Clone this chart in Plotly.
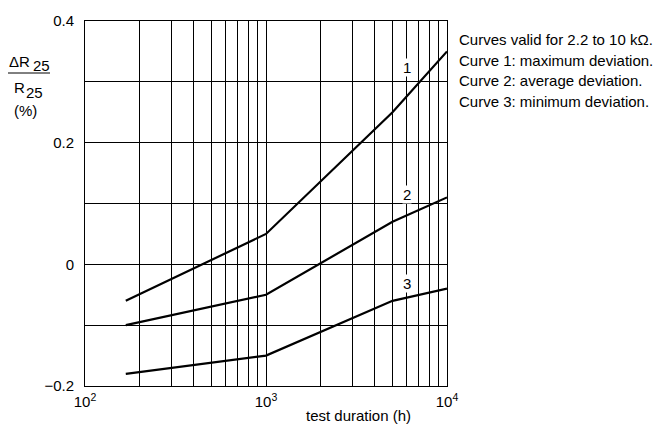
import plotly.graph_objects as go

# ---- data ----
hours = [168, 1000, 5000, 10000]
curve1 = [-0.06, 0.05, 0.25, 0.35]
curve2 = [-0.10, -0.05, 0.07, 0.11]
curve3 = [-0.18, -0.15, -0.06, -0.04]
curve_labels = ["1", "2", "3"]
label_x = 6000
label_y = [0.323, 0.115, -0.031]

x_tickvals = [100, 1000, 10000]
x_ticktext = ["10<sup>2</sup>", "10<sup>3</sup>", "10<sup>4</sup>"]
x_minorvals = [m * 10 ** e for e in (2, 3) for m in range(2, 10)]
y_tickvals = [-0.2, 0, 0.2, 0.4]
y_ticktext = ["\u22120.2", "0", "0.2", "0.4"]
y_minorvals = [-0.1, 0.1, 0.3]

notes = [
    "Curves valid for 2.2 to 10 k\u03a9.",
    "Curve 1: maximum deviation.",
    "Curve 2: average deviation.",
    "Curve 3: minimum deviation.",
]

W, H = 666, 426
L, R, T, B = 85, 447, 14, 386
FONT = "Liberation Sans, Arial, sans-serif"


def px(x):
    return (x - L) / (R - L)


def py(y):
    return (B - y) / (B - T)


fig = go.Figure()
for ys in (curve1, curve2, curve3):
    fig.add_trace(go.Scatter(x=hours, y=ys, mode="lines",
                             line=dict(color="black", width=2.2), showlegend=False,
                             hoverinfo="skip"))

anns = []
for t, yv in zip(curve_labels, label_y):
    anns.append(dict(x=3.778, y=yv, xref="x", yref="y", text=t, showarrow=False,
                     font=dict(size=15, color="black", family=FONT), bgcolor="white", borderpad=0))

for i, t in enumerate(notes):
    anns.append(dict(x=px(457), y=py(33 + i * 21), xref="paper", yref="paper", text=t,
                     showarrow=False, xanchor="left", yanchor="middle",
                     font=dict(size=15, color="black", family=FONT)))

# y-axis title (fraction)
ytitle = [("\u0394R", 19, 55), ("25", 41, 59), ("R", 19.5, 82), ("25", 34, 87), ("(%)", 25, 105)]
for t, x, y in ytitle:
    anns.append(dict(x=px(x), y=py(y), xref="paper", yref="paper", text=t, showarrow=False,
                     xanchor="center", yanchor="middle",
                     font=dict(size=15, color="black", family=FONT)))

anns.append(dict(x=px(358), y=py(416), xref="paper", yref="paper", text="test duration (h)",
                 showarrow=False, xanchor="center", yanchor="middle",
                 font=dict(size=15, color="black", family=FONT)))

fig.update_layout(
    width=W, height=H,
    margin=dict(l=L, r=W - R, t=T, b=H - B, pad=0),
    paper_bgcolor="white", plot_bgcolor="white",
    font=dict(family=FONT, size=15, color="black"),
    annotations=anns,
    shapes=[dict(type="line", xref="paper", yref="paper", x0=px(8), x1=px(50), y0=py(67), y1=py(67),
                 line=dict(color="black", width=1))],
)
fig.update_xaxes(type="log", range=[2, 4], tickmode="array", tickvals=x_tickvals, ticktext=x_ticktext,
                 showgrid=True, gridcolor="black", gridwidth=1, showline=True, mirror=True,
                 linecolor="black", linewidth=1, ticks="", zeroline=False,
                 minor=dict(tickmode="array", tickvals=x_minorvals, showgrid=True,
                            gridcolor="black", gridwidth=1, ticks=""),
                 tickfont=dict(size=15, family=FONT), ticklabelstandoff=2)
fig.update_yaxes(range=[-0.2, 0.4], tickmode="array", tickvals=y_tickvals, ticktext=y_ticktext,
                 showgrid=True, gridcolor="black", gridwidth=1, showline=True, mirror=True,
                 linecolor="black", linewidth=1, ticks="", zeroline=False,
                 minor=dict(tickmode="array", tickvals=y_minorvals, showgrid=True,
                            gridcolor="black", gridwidth=1, ticks=""),
                 tickfont=dict(size=15, family=FONT), ticklabelstandoff=7)

fig.write_html("out.html", config={"displayModeBar": False},
               post_script="document.body.style.margin='0';")
